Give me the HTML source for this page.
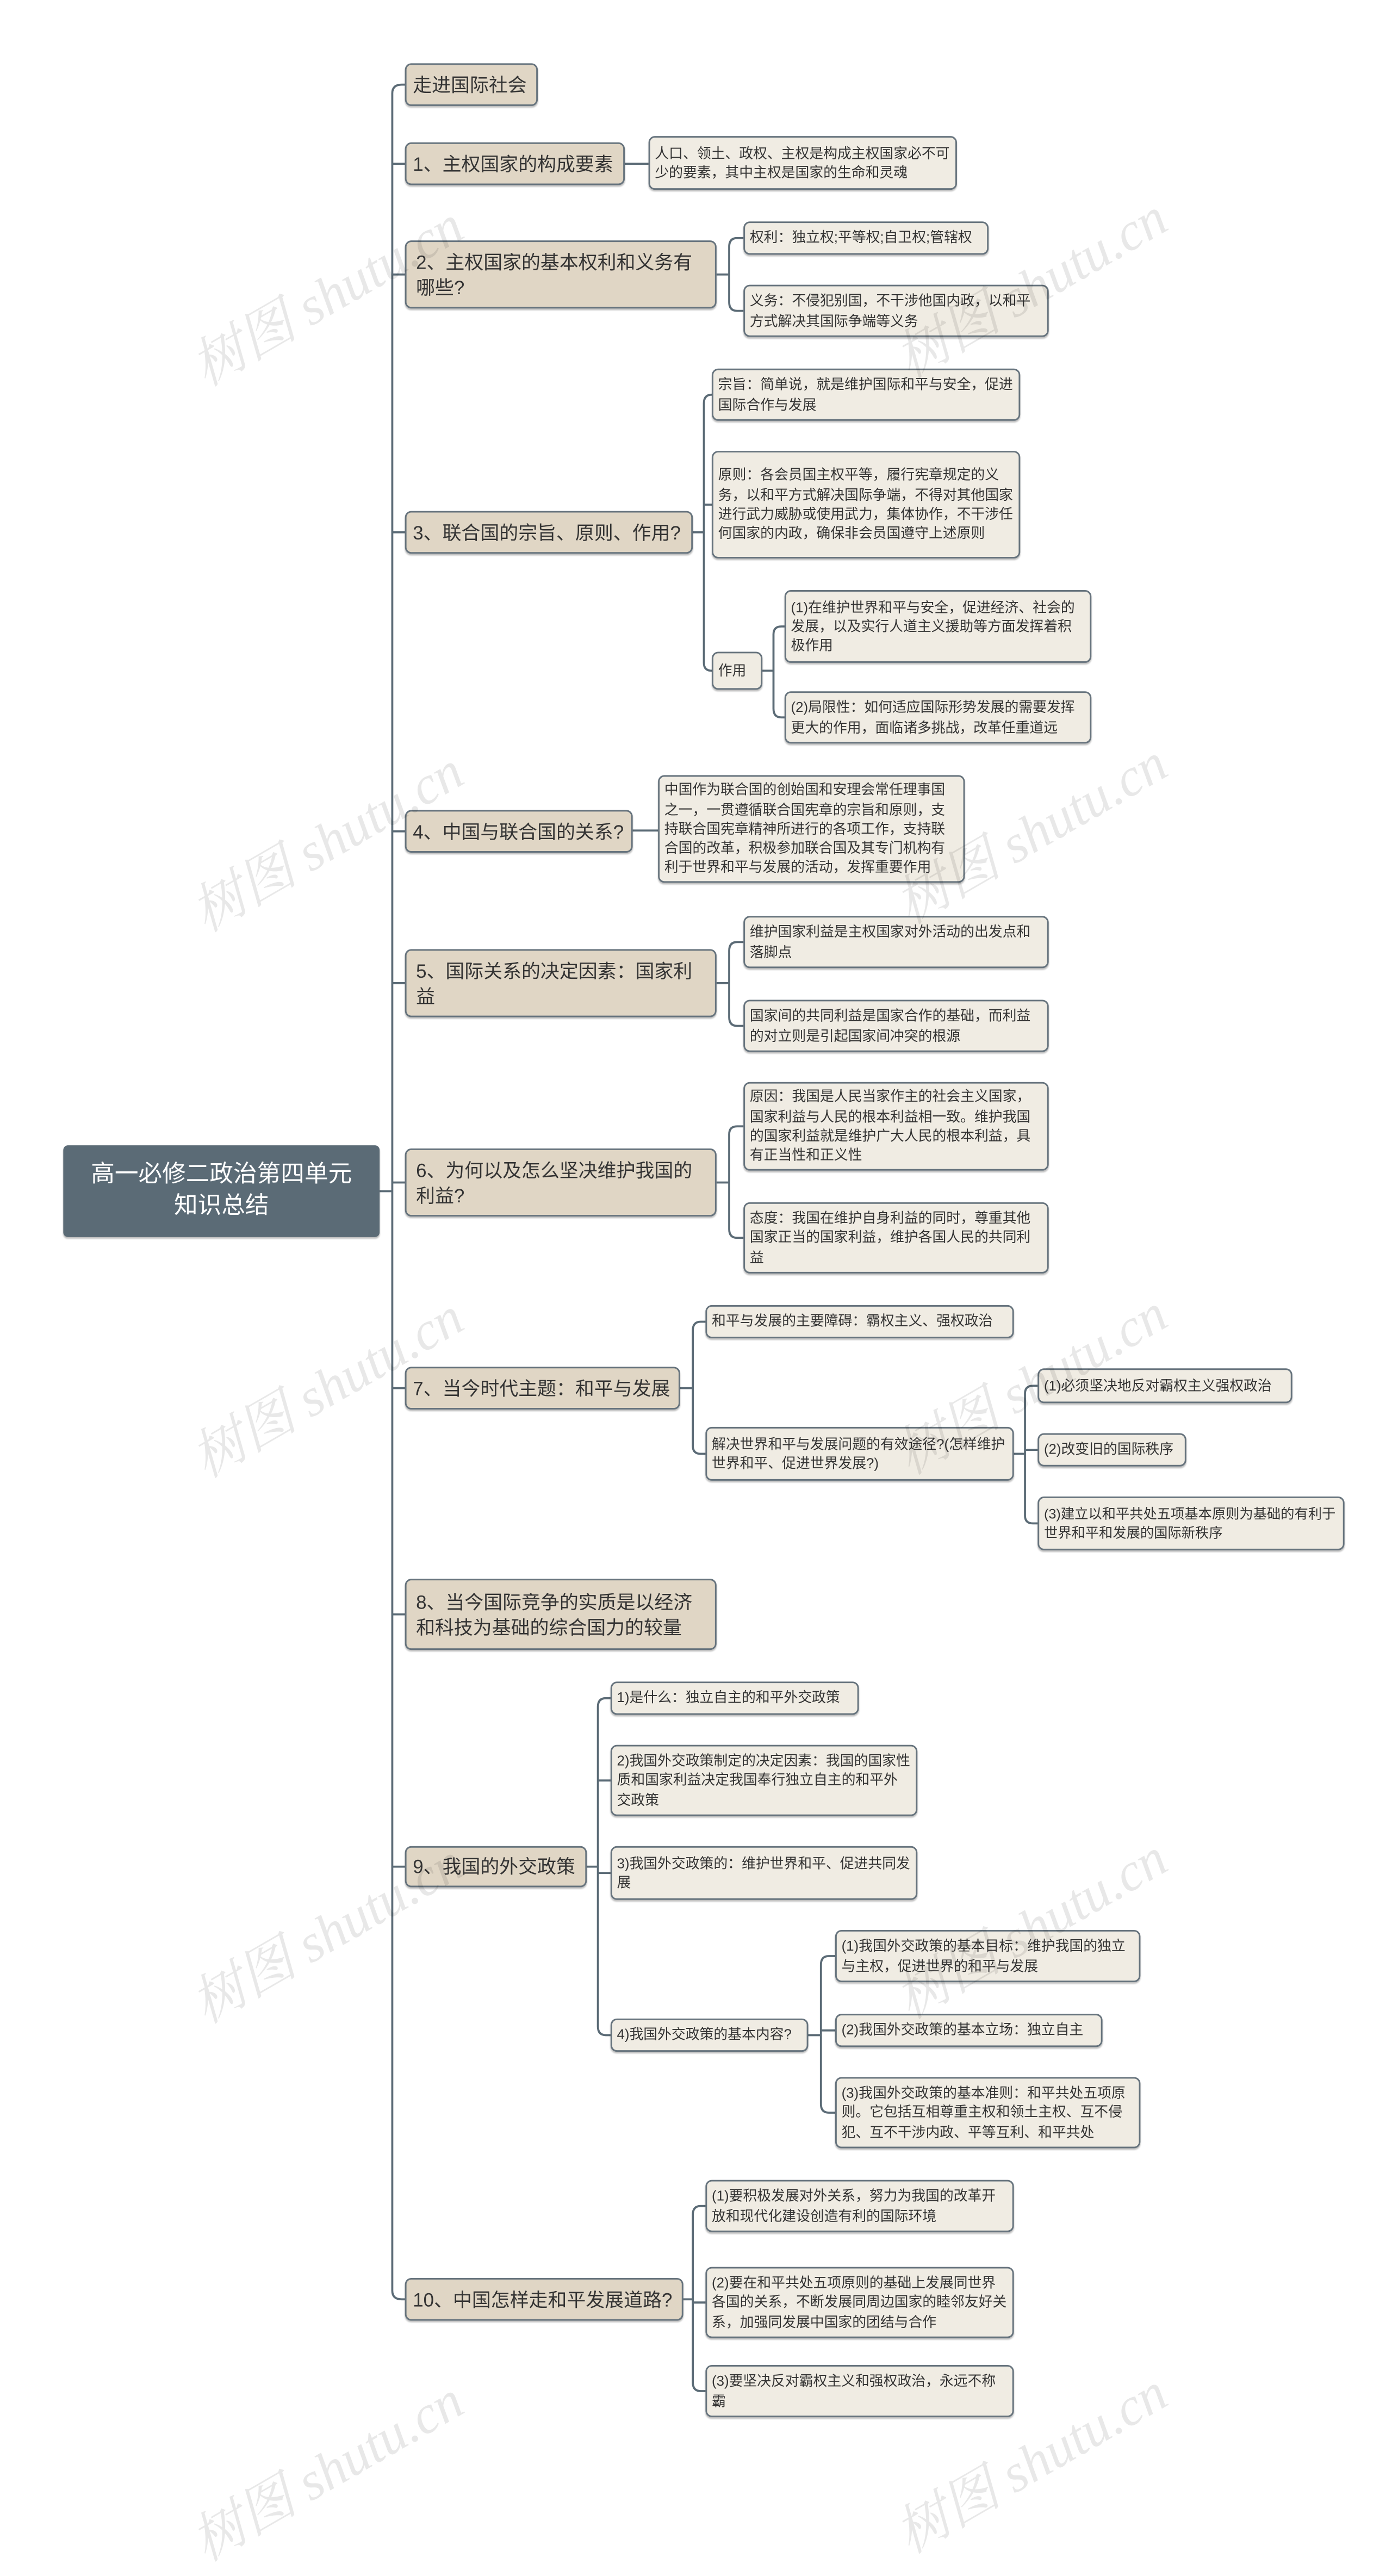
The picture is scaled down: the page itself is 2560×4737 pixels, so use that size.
<!DOCTYPE html>
<html><head><meta charset="utf-8"><style>
html,body{margin:0;padding:0;background:#fff;}
body{width:2560px;height:4512px;overflow:hidden;position:relative;}
#c{position:absolute;left:0;top:0;width:880px;height:1551px;transform:scale(2.909);transform-origin:0 0;font-family:"Liberation Sans","Noto Sans CJK SC",sans-serif;}
.n{position:absolute;box-sizing:border-box;border:1px solid #66737d;border-radius:4px;color:#333;display:flex;align-items:center;padding:2px 3px;box-shadow:0 1px 1px rgba(0,0,0,0.25);overflow:visible;}
.l1{background:#e0d6c5;font-size:12px;line-height:16px;padding:2px 4px;}
.l1.ml{padding:2px 6px;}
.lf{background:#f0ece3;font-size:8.9px;line-height:12.3px;}
.nw{white-space:nowrap;}
.root{background:#5b6b76;color:#fff;font-size:15px;line-height:20px;text-align:center;justify-content:center;border:none;border-radius:3px;}
svg{position:absolute;left:0;top:0;}
.wm{position:absolute;font-family:"Liberation Serif","Noto Serif CJK SC",serif;font-style:italic;font-size:34px;color:rgba(0,0,0,0.09);transform:rotate(-30deg);white-space:nowrap;}
</style></head><body><div id="c">
<svg width="880" height="1551" fill="none" stroke="#5b6b76" stroke-width="1.3">
<path d="M240 753H248"/>
<path d="M248 753V59Q248 53.5 254 53.5H256"/>
<path d="M248 753V1448Q248 1453.5 254 1453.5H256"/>
<path d="M248 103.5H256M248 173.5H256M248 336.5H256M248 525.5H256M248 621.5H256M248 747.5H256M248 877.5H256M248 1020.5H256M248 1180H256"/>
<path d="M395 103.5H410"/>
<path d="M453 173.5H461M461 173.5V156Q461 150.5 466 150.5H470M461 173.5V191Q461 196.5 466 196.5H470"/>
<path d="M438 336.5H445M445 336.5V255Q445 249.5 450 249.5M445 336.5V319H450M445 336.5V419Q445 424 450 424"/>
<path d="M482 424H489M489 424V401Q489 396 494 396H496M489 424V448Q489 453.5 494 453.5H496"/>
<path d="M400 525H416"/>
<path d="M453 621.5H461M461 621.5V601Q461 595.5 466 595.5H470M461 621.5V643Q461 648.5 466 648.5H470"/>
<path d="M453 747.5H461M461 747.5V717Q461 712 466 712H470M461 747.5V777Q461 782.5 466 782.5H470"/>
<path d="M430 877.5H438M438 877.5V841Q438 835.5 443 835.5H446M438 877.5V914Q438 919 443 919H446"/>
<path d="M641 919H648M648 919V881Q648 876 653 876H656M648 916.5H656M648 919V958Q648 963 653 963H656"/>
<path d="M371 1180H378M378 1180V1079Q378 1073.5 383 1073.5H386M378 1125.5H386M378 1184H386M378 1180V1281Q378 1286.5 383 1286.5H386"/>
<path d="M511 1286.5H519M519 1286.5V1242Q519 1236.5 524 1236.5H528M519 1283.5H528M519 1286.5V1330Q519 1335.5 524 1335.5H528"/>
<path d="M432 1453.5H438M438 1453.5V1400Q438 1394.5 443 1394.5H446M438 1455.5H446M438 1453.5V1506Q438 1511.5 443 1511.5H446"/>
</svg>

<div class="n root" style="left:40px;top:724px;width:200px;height:58px;">高一必修二政治第四单元<br>知识总结</div>

<div class="n l1 nw" style="left:256px;top:40px;width:84px;height:27px;">走进国际社会</div>
<div class="n l1 nw" style="left:256px;top:90px;width:139px;height:27px;">1、主权国家的构成要素</div>
<div class="n lf" style="left:410px;top:86px;width:195px;height:34px;">人口、领土、政权、主权是构成主权国家必不可少的要素，其中主权是国家的生命和灵魂</div>
<div class="n l1 ml" style="left:256px;top:152px;width:197px;height:43px;">2、主权国家的基本权利和义务有哪些?</div>
<div class="n lf nw" style="left:470px;top:140px;width:155px;height:21px;">权利：独立权;平等权;自卫权;管辖权</div>
<div class="n lf" style="left:470px;top:180px;width:193px;height:33px;">义务：不侵犯别国，不干涉他国内政，以和平方式解决其国际争端等义务</div>

<div class="n l1 nw" style="left:256px;top:323px;width:182px;height:27px;">3、联合国的宗旨、原则、作用?</div>
<div class="n lf" style="left:450px;top:233px;width:195px;height:33px;">宗旨：简单说，就是维护国际和平与安全，促进国际合作与发展</div>
<div class="n lf" style="left:450px;top:285px;width:195px;height:68px;">原则：各会员国主权平等，履行宪章规定的义务，以和平方式解决国际争端，不得对其他国家进行武力威胁或使用武力，集体协作，不干涉任何国家的内政，确保非会员国遵守上述原则</div>
<div class="n lf nw" style="left:450px;top:412px;width:32px;height:24px;">作用</div>
<div class="n lf" style="left:496px;top:373px;width:194px;height:46px;">(1)在维护世界和平与安全，促进经济、社会的发展，以及实行人道主义援助等方面发挥着积极作用</div>
<div class="n lf" style="left:496px;top:437px;width:194px;height:33px;">(2)局限性：如何适应国际形势发展的需要发挥更大的作用，面临诸多挑战，改革任重道远</div>

<div class="n l1 nw" style="left:256px;top:512px;width:144px;height:27px;">4、中国与联合国的关系?</div>
<div class="n lf" style="left:416px;top:490px;width:194px;height:68px;">中国作为联合国的创始国和安理会常任理事国之一，一贯遵循联合国宪章的宗旨和原则，支持联合国宪章精神所进行的各项工作，支持联合国的改革，积极参加联合国及其专门机构有利于世界和平与发展的活动，发挥重要作用</div>

<div class="n l1 ml" style="left:256px;top:600px;width:197px;height:43px;">5、国际关系的决定因素：国家利益</div>
<div class="n lf" style="left:470px;top:579px;width:193px;height:33px;">维护国家利益是主权国家对外活动的出发点和落脚点</div>
<div class="n lf" style="left:470px;top:632px;width:193px;height:33px;">国家间的共同利益是国家合作的基础，而利益的对立则是引起国家间冲突的根源</div>

<div class="n l1 ml" style="left:256px;top:726px;width:197px;height:43px;">6、为何以及怎么坚决维护我国的利益?</div>
<div class="n lf" style="left:470px;top:684px;width:193px;height:56px;">原因：我国是人民当家作主的社会主义国家，国家利益与人民的根本利益相一致。维护我国的国家利益就是维护广大人民的根本利益，具有正当性和正义性</div>
<div class="n lf" style="left:470px;top:760px;width:193px;height:45px;">态度：我国在维护自身利益的同时，尊重其他国家正当的国家利益，维护各国人民的共同利益</div>

<div class="n l1 nw" style="left:256px;top:864px;width:174px;height:27px;">7、当今时代主题：和平与发展</div>
<div class="n lf nw" style="left:446px;top:825px;width:195px;height:21px;">和平与发展的主要障碍：霸权主义、强权政治</div>
<div class="n lf" style="left:446px;top:902px;width:195px;height:34px;">解决世界和平与发展问题的有效途径?(怎样维护世界和平、促进世界发展?)</div>
<div class="n lf nw" style="left:656px;top:865px;width:161px;height:22px;">(1)必须坚决地反对霸权主义强权政治</div>
<div class="n lf nw" style="left:656px;top:906px;width:94px;height:21px;">(2)改变旧的国际秩序</div>
<div class="n lf" style="left:656px;top:946px;width:194px;height:34px;font-size:8.7px;">(3)建立以和平共处五项基本原则为基础的有利于世界和平和发展的国际新秩序</div>

<div class="n l1 ml" style="left:256px;top:998px;width:197px;height:45px;">8、当今国际竞争的实质是以经济和科技为基础的综合国力的较量</div>

<div class="n l1 nw" style="left:256px;top:1167px;width:115px;height:26px;">9、我国的外交政策</div>
<div class="n lf nw" style="left:386px;top:1063px;width:157px;height:21px;">1)是什么：独立自主的和平外交政策</div>
<div class="n lf" style="left:386px;top:1103px;width:194px;height:45px;">2)我国外交政策制定的决定因素：我国的国家性质和国家利益决定我国奉行独立自主的和平外交政策</div>
<div class="n lf" style="left:386px;top:1167px;width:194px;height:34px;">3)我国外交政策的：维护世界和平、促进共同发展</div>
<div class="n lf nw" style="left:386px;top:1276px;width:125px;height:21px;">4)我国外交政策的基本内容?</div>
<div class="n lf" style="left:528px;top:1220px;width:193px;height:33px;">(1)我国外交政策的基本目标：维护我国的独立与主权，促进世界的和平与发展</div>
<div class="n lf nw" style="left:528px;top:1273px;width:169px;height:21px;">(2)我国外交政策的基本立场：独立自主</div>
<div class="n lf" style="left:528px;top:1313px;width:193px;height:45px;">(3)我国外交政策的基本准则：和平共处五项原则。它包括互相尊重主权和领土主权、互不侵犯、互不干涉内政、平等互利、和平共处</div>

<div class="n l1 nw" style="left:256px;top:1440px;width:176px;height:27px;">10、中国怎样走和平发展道路?</div>
<div class="n lf" style="left:446px;top:1378px;width:195px;height:33px;">(1)要积极发展对外关系，努力为我国的改革开放和现代化建设创造有利的国际环境</div>
<div class="n lf" style="left:446px;top:1433px;width:195px;height:45px;">(2)要在和平共处五项原则的基础上发展同世界各国的关系，不断发展同周边国家的睦邻友好关系，加强同发展中国家的团结与合作</div>
<div class="n lf" style="left:446px;top:1495px;width:195px;height:33px;">(3)要坚决反对霸权主义和强权政治，永远不称霸</div>

<div class="wm" style="left:110px;top:160px;">树图 shutu.cn</div>
<div class="wm" style="left:555px;top:155px;">树图 shutu.cn</div>
<div class="wm" style="left:110px;top:505px;">树图 shutu.cn</div>
<div class="wm" style="left:555px;top:500px;">树图 shutu.cn</div>
<div class="wm" style="left:110px;top:850px;">树图 shutu.cn</div>
<div class="wm" style="left:555px;top:848px;">树图 shutu.cn</div>
<div class="wm" style="left:110px;top:1195px;">树图 shutu.cn</div>
<div class="wm" style="left:555px;top:1192px;">树图 shutu.cn</div>
<div class="wm" style="left:110px;top:1535px;">树图 shutu.cn</div>
<div class="wm" style="left:555px;top:1530px;">树图 shutu.cn</div>
</div></body></html>
